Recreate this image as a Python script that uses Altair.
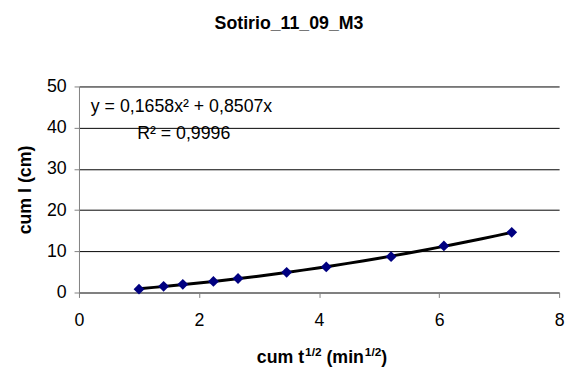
import altair as alt
import pandas as pd

# ---- data ----
x_vals = [1.0, 1.41, 1.73, 2.24, 2.65, 3.46, 4.12, 5.20, 6.08, 7.21]
y_vals = [0.8, 1.5, 2.0, 2.7, 3.4, 4.9, 6.2, 8.7, 11.3, 14.6]
x_ticks = [0, 2, 4, 6, 8]
y_ticks = [0, 10, 20, 30, 40, 50]
chart_title = "Sotirio_11_09_M3"
y_title = "cum I (cm)"
eq_text = "y = 0,1658x² + 0,8507x"
r2_text = "R² = 0,9996"
# x-axis title pieces: (text, is_superscript, leading gap in em)
x_title_parts = [("cum t", False, 0.0), ("1/2", True, 0.05), ("(min", False, 0.278),
                 ("1/2", True, 0.05), (")", False, 0.0)]

df = pd.DataFrame({"x": x_vals, "y": y_vals})

W, H = 487, 209
FONT = "Liberation Sans"
FS = 18

xscale = alt.Scale(domain=[0, 8], nice=False, zero=False)
yscale = alt.Scale(domain=[0, 50], nice=False)

base = alt.Chart(df)

points = base.mark_point(
    shape="diamond", filled=True, color="#000080", size=120, opacity=1
).encode(
    x=alt.X("x:Q", scale=xscale,
            axis=alt.Axis(values=x_ticks, format="d", grid=False, title=None,
                          labelPadding=14, labelFlush=False)),
    y=alt.Y("y:Q", scale=yscale,
            axis=alt.Axis(values=y_ticks, format="d", grid=True, title=y_title,
                          titlePadding=12, labelPadding=8, labelFlush=False)),
)

trend = base.transform_regression(
    "x", "y", method="poly", order=2
).mark_line(color="black", strokeWidth=3).encode(
    x=alt.X("x:Q", scale=xscale),
    y=alt.Y("y:Q", scale=yscale),
)

eq = alt.Chart(pd.DataFrame({"t": [eq_text]})).mark_text(
    align="left", baseline="middle", font=FONT, fontSize=FS, color="black"
).encode(text="t:N", x=alt.value(12), y=alt.value(21))

r2 = alt.Chart(pd.DataFrame({"t": [r2_text]})).mark_text(
    align="left", baseline="middle", font=FONT, fontSize=FS, color="black"
).encode(text="t:N", x=alt.value(59), y=alt.value(48))

ttl = alt.Chart(pd.DataFrame({"t": [chart_title]})).mark_text(
    align="center", baseline="alphabetic", font=FONT, fontSize=FS,
    fontWeight="bold", color="black"
).encode(text="t:N", x=alt.value(213), y=alt.value(-58))

# build x title from pieces (superscripts smaller and raised)
def text_width(s, size):
    w = {"c": .556, "u": .611, "m": .889, " ": .278, "t": .333, "(": .333,
         ")": .333, "i": .278, "n": .611, "1": .556, "/": .278, "2": .556}
    return sum(w.get(ch, .556) for ch in s) * size

SUP = 12
total = sum(text_width(t, SUP if sup else FS) + g * FS for t, sup, g in x_title_parts)
cx = W / 2 + 3
pos = cx - total / 2
layers = []
for t, sup, g in x_title_parts:
    size = SUP if sup else FS
    pos += g * FS
    layers.append(
        alt.Chart(pd.DataFrame({"t": [t]})).mark_text(
            align="left", baseline="alphabetic", font=FONT, fontSize=size,
            fontWeight="bold", color="black"
        ).encode(text="t:N", x=alt.value(pos), y=alt.value(H + 71 - (7 if sup else 0)))
    )
    pos += text_width(t, size)

chart = alt.layer(trend, points, eq, r2, ttl, *layers).properties(
    width=W, height=H,
    autosize=alt.AutoSizeParams(type="none"),
    padding={"left": 72, "top": 77, "right": 9, "bottom": 76},
).configure_view(stroke=None).configure_axis(
    labelFont=FONT, labelFontSize=FS, labelColor="black",
    titleFont=FONT, titleFontSize=FS, titleFontWeight="bold", titleColor="black",
    domainColor="#808080", tickColor="#808080", tickSize=5,
    gridColor="#000000", gridWidth=1, gridOpacity=1,
)

chart.save("out.html", embed_options={"renderer": "svg", "actions": False})
